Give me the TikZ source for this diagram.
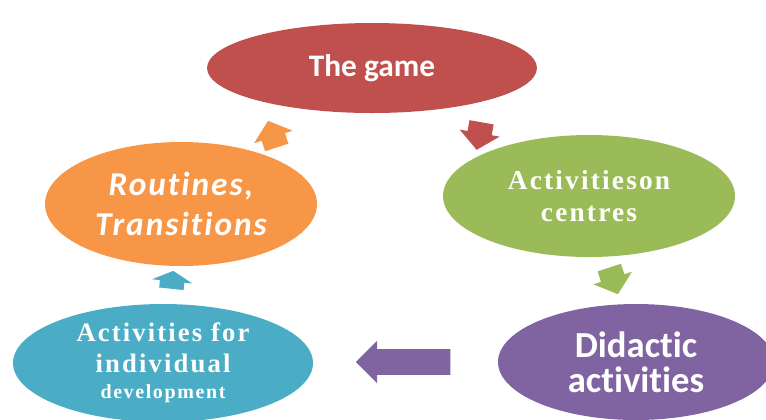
\documentclass[tikz,border=0pt]{standalone}
\usepackage{fontspec}
\usepackage{xcolor}
\usetikzlibrary{shapes.geometric}
\usetikzlibrary{shapes.arrows}
\newfontfamily\calibrifont[Ligatures=NoCommon]{Carlito}
\newfontfamily\calibrispaced[LetterSpace=6,Ligatures=NoCommon]{Carlito}
\newfontfamily\timesspaced[LetterSpace=8]{Liberation Serif}
\definecolor{gamered}{HTML}{C0504D}
\definecolor{centregreen}{HTML}{9BBB59}
\definecolor{routineorange}{HTML}{F79646}
\definecolor{devblue}{HTML}{4BACC6}
\definecolor{didpurple}{HTML}{8064A2}
\tikzset{
  stage/.style = {ellipse, inner sep=0pt, text=white, align=center},
  cyclearrow/.style = {single arrow, draw=none, inner xsep=0pt, inner ysep=9pt,
    single arrow head extend=6pt, single arrow tip angle=100, minimum height=21pt}
}

\begin{document}
\begin{tikzpicture}[x=0.75pt, y=-0.75pt]
        \useasboundingbox (0,0) rectangle (766,419);
        \clip (0,0) rectangle (766,419);
        % the five stages of the cycle
        \node (game) [stage, fill=gamered, minimum width=247.5pt, minimum height=67.5pt,
          font=\calibrifont\bfseries\fontsize{23.5}{28}\selectfont] at (372,68) {The game};
        \node (centres) [stage, fill=centregreen, minimum width=219pt, minimum height=91.5pt,
          font=\timesspaced\bfseries\fontsize{20.5}{24}\selectfont] at (589,196) {Activitieson\\ centres};
        \node (didactic) [stage, fill=didpurple, minimum width=207pt, minimum height=87pt,
          font=\calibrifont\bfseries\fontsize{27.5}{26}\selectfont] at (636,362) {Didactic\\ activities};
        \node (individual) [stage, fill=devblue, minimum width=225pt, minimum height=88.5pt,
          font=\timesspaced\bfseries\fontsize{20}{23}\selectfont] at (163,363)
          {Activities for\\ individual\\[-3pt] {\fontsize{15}{18}\selectfont development}};
        \node (routines) [stage, fill=routineorange, minimum width=204pt, minimum height=93pt,
          font=\calibrispaced\bfseries\itshape\fontsize{25}{30}\selectfont] at (181,204) {Routines,\\ Transitions};
        % arrows between the stages
        \node (toCentres) [cyclearrow, fill=gamered, rotate=-100] at (480,131) {};
        \node (toDidactic) [cyclearrow, fill=centregreen, rotate=-72] at (612,276) {};
        \node (toIndividual) [cyclearrow, fill=didpurple, rotate=180, inner ysep=9.4pt,
          single arrow head extend=6.4pt, single arrow tip angle=90, minimum height=71pt] at (409.5,362) {};
        \node (toRoutines) [cyclearrow, fill=devblue, rotate=84, single arrow tip angle=125,
          minimum height=13.5pt] at (172,283) {};
        \node (toGame) [cyclearrow, fill=routineorange, rotate=108] at (274,139) {};
    \end{tikzpicture}
\end{document}
